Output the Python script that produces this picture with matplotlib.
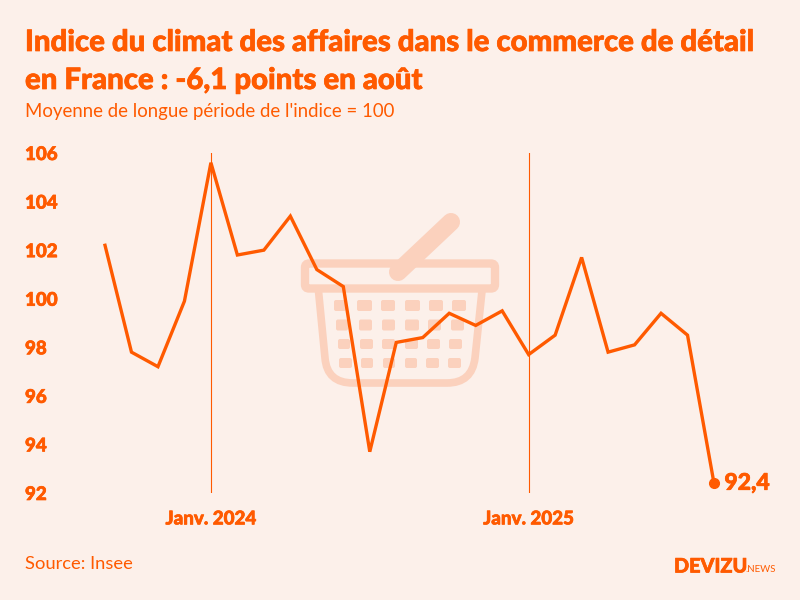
import matplotlib
matplotlib.use('Agg')
import matplotlib.pyplot as plt
import matplotlib.patheffects as pe
from matplotlib.patches import FancyBboxPatch, PathPatch
from matplotlib.path import Path

ORANGE = '#FF5A00'
BG = '#FCF0EA'
PALE = '#FBD1BD'

months = list(range(24))
values = [102.2, 97.8, 97.2, 99.9, 105.6, 101.8, 102.0, 103.4, 101.2, 100.5, 93.7, 98.2,
          98.4, 99.4, 98.9, 99.5, 97.7, 98.5, 101.7, 97.8, 98.1, 99.4, 98.5, 92.4]
y_ticks = [92, 94, 96, 98, 100, 102, 104, 106]
jan_positions = [4, 16]
jan_labels = ['Janv. 2024', 'Janv. 2025']

plt.rcParams['font.family'] = ['Lato', 'DejaVu Sans']

# Lato black is a bit thin next to the original font, so thicken it a little
heavy = [pe.withStroke(linewidth=0.5, foreground=ORANGE)]

fig = plt.figure(figsize=(8, 6), dpi=100, facecolor=BG)

# decor layer in pixels, for the basket and the texts
bg = fig.add_axes([0, 0, 1, 1], zorder=0)
bg.set_xlim(0, 800)
bg.set_ylim(600, 0)
bg.axis('off')

bg.text(25, 43, 'Indice du climat des affaires dans le commerce de détail', color=ORANGE,
        fontsize=21.15, fontweight='black', va='center', ha='left', path_effects=heavy)
bg.text(25, 81, 'en France : -6,1 points en août', color=ORANGE,
        fontsize=21.15, fontweight='black', va='center', ha='left', path_effects=heavy)
bg.text(25, 111, "Moyenne de longue période de l'indice = 100", color=ORANGE,
        fontsize=13.45, fontweight='normal', va='center', ha='left')
bg.text(25, 564, 'Source: Insee', color=ORANGE, fontsize=13.2, fontweight='normal', va='center', ha='left')
bg.text(674, 566, 'DEVIZU', color=ORANGE, fontsize=14.3, fontweight='black', va='center', ha='left',
        path_effects=heavy)
bg.text(745, 570, '.NEWS', color=ORANGE, fontsize=7, fontweight='normal', va='center', ha='left')

# basket
bg.add_patch(FancyBboxPatch((305, 263.5), 190, 25, boxstyle='round,pad=0,rounding_size=4',
                            fc='none', ec=PALE, lw=6))
bg.plot([398, 451], [272, 222], color=PALE, lw=13, solid_capstyle='round')
body = Path([(318.5, 291), (325, 358), (327, 383), (353, 383), (447, 383), (472, 383), (475, 358), (482, 291)],
            [Path.MOVETO, Path.LINETO, Path.CURVE3, Path.CURVE3, Path.LINETO, Path.CURVE3, Path.CURVE3, Path.LINETO])
bg.add_patch(PathPatch(body, fc='none', ec=PALE, lw=5.5, capstyle='butt'))
hole_rows = [
    (300, 11, [(334, 346), (357, 372), (381, 395), (405, 420), (429, 443), (452, 466)]),
    (319.5, 11, [(336, 348), (359, 372), (382, 395), (405, 419), (428, 441), (451, 464)]),
    (339, 10, [(338, 350), (360, 373), (382, 395), (405, 418), (427, 440), (449, 462)]),
    (358, 10, [(339, 352), (361, 373), (383, 395), (405, 417), (426, 439), (448, 461)]),
]
for top, h, cols in hole_rows:
    for x0, x1 in cols:
        bg.add_patch(FancyBboxPatch((x0, top), x1 - x0, h, boxstyle='round,pad=0,rounding_size=2',
                                    fc=PALE, ec='none'))

# chart, the axes box is placed so the series runs from x=105 to x=714
ax = fig.add_axes([105 / 800, 107 / 600, 609 / 800, 340 / 600], zorder=1)
ax.patch.set_alpha(0)
ax.set_xlim(0, 23)
ax.set_ylim(92, 106)
for s in ax.spines.values():
    s.set_visible(False)

for p in jan_positions:
    ax.plot([p, p], [92, 106], color=ORANGE, lw=0.8)
ax.plot(months, values, color=ORANGE, lw=2.4, solid_joinstyle='miter', clip_on=False)
ax.plot(months[-1], values[-1], 'o', color=ORANGE, ms=7, clip_on=False)
ax.annotate('92,4', (months[-1], values[-1]), xytext=(7.5, 0), textcoords='offset points',
            color=ORANGE, fontsize=16.5, fontweight='black', va='center', ha='left', path_effects=heavy)

ax.set_yticks(y_ticks)
ax.set_yticklabels([str(v) for v in y_ticks], color=ORANGE, fontsize=13.5, fontweight='black', ha='left',
                   va='center_baseline', path_effects=heavy)
ax.set_xticks(jan_positions)
ax.set_xticklabels(jan_labels, color=ORANGE, fontsize=13.5, fontweight='black', path_effects=heavy)
ax.tick_params(axis='y', length=0, pad=57.6)
ax.tick_params(axis='x', length=0, pad=12.5)

fig.savefig('out.png', dpi=100, facecolor=BG)
